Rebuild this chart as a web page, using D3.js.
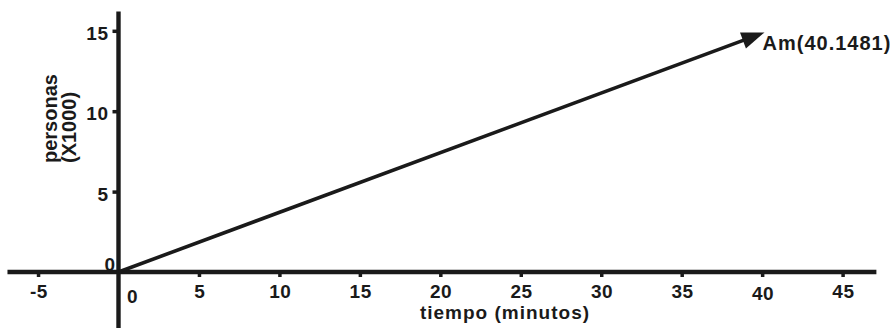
<!DOCTYPE html>
<html>
<head>
<meta charset="utf-8">
<script src="https://cdn.jsdelivr.net/npm/d3@7"></script>
<style>
  html, body { margin: 0; padding: 0; background: #fff; }
  svg { display: block; }
  text { font-family: "Liberation Sans", Arial, sans-serif; font-weight: bold; fill: #1a1a1a; }
</style>
</head>
<body>
<svg id="chart" width="890" height="328"></svg>
<script>
// ---- data ----
const xTicks = [-5, 0, 5, 10, 15, 20, 25, 30, 35, 40, 45];
const yTicks = [0, 5, 10, 15];
const lineX = [0, 40.1481];
const lineY = [0, 14.9];
const annotation = "Am(40.1481)";
const xTitle = "tiempo (minutos)";
const yTitleLines = ["personas", "(X1000)"];
const xExtent = [-6.9, 47.1];
const yExtent = [-3.6, 16.2];

// ---- layout ----
const W = 890, H = 328;
const ink = "#1a1a1a";
const svg = d3.select("#chart");

const x = d3.scaleLinear().domain([0, 45]).range([118.5, 842.6]);
const y = d3.scaleLinear().domain([0, 15]).range([272, 30.8]);

// axis lines
svg.append("line")
  .attr("x1", x(xExtent[0])).attr("x2", x(xExtent[1]))
  .attr("y1", y(0)).attr("y2", y(0))
  .attr("stroke", ink).attr("stroke-width", 4.4);
svg.append("line")
  .attr("x1", x(0)).attr("x2", x(0))
  .attr("y1", y(yExtent[1])).attr("y2", y(yExtent[0]))
  .attr("stroke", ink).attr("stroke-width", 4.4);

// x axis ticks + labels
const xAxis = d3.axisBottom(x).tickValues(xTicks).tickSize(5).tickSizeOuter(0).tickFormat(d3.format("d"));
const gx = svg.append("g").attr("transform", `translate(0,${y(0)})`).call(xAxis);
gx.select(".domain").remove();
gx.selectAll(".tick line").attr("stroke", ink).attr("stroke-width", 3.5)
  .attr("display", d => d === 0 ? "none" : null);
gx.selectAll(".tick text")
  .attr("font-size", 19).attr("letter-spacing", 0.5).attr("fill", ink)
  .attr("font-family", '"Liberation Sans", Arial, sans-serif').attr("font-weight", "bold")
  .attr("dy", null)
  .attr("y", d => d === 0 ? 30.5 : (d === 40 ? 28 : 25.5))
  .attr("x", d => d === 0 ? 13.5 : 0.3)
  .text(d => d3.format("d")(d).replace("−", "-"));

// y axis ticks + labels
const yAxis = d3.axisLeft(y).tickValues(yTicks).tickSize(6).tickSizeOuter(0).tickFormat(d3.format("d"));
const gy = svg.append("g").attr("transform", `translate(${x(0)},0)`).call(yAxis);
gy.select(".domain").remove();
gy.selectAll(".tick line").attr("stroke", ink).attr("stroke-width", 3.5)
  .attr("display", d => d === 0 ? "none" : null);
gy.selectAll(".tick text")
  .attr("font-size", 19).attr("letter-spacing", 0.5).attr("fill", ink)
  .attr("font-family", '"Liberation Sans", Arial, sans-serif').attr("font-weight", "bold")
  .attr("dy", null)
  .attr("x", d => d === 0 ? -3 : -10)
  .attr("y", d => d === 0 ? -2 : 8.5);

// the line with arrowhead
const x0 = x(lineX[0]), y0 = y(lineY[0]);
const x1 = x(lineX[1]), y1 = y(lineY[1]);
const len = Math.hypot(x1 - x0, y1 - y0);
const ux = (x1 - x0) / len, uy = (y1 - y0) / len;
const px = -uy, py = ux;
const headL = 23, headW = 8.5;
svg.append("line")
  .attr("x1", x0).attr("y1", y0)
  .attr("x2", x1 - ux * 12).attr("y2", y1 - uy * 12)
  .attr("stroke", ink).attr("stroke-width", 3.6);
const bx = x1 - ux * headL, by = y1 - uy * headL;
svg.append("path")
  .attr("d", `M${x1},${y1}L${bx + px * headW},${by + py * headW}L${bx - px * headW},${by - py * headW}Z`)
  .attr("fill", ink);

// annotation
svg.append("text")
  .attr("x", x1 - 2).attr("y", y1 + 18)
  .attr("font-size", 20).attr("letter-spacing", 1)
  .text(annotation);

// axis titles
svg.append("text")
  .attr("x", 505).attr("y", 318.5)
  .attr("text-anchor", "middle")
  .attr("font-size", 19).attr("letter-spacing", 1)
  .text(xTitle);

const yt = svg.append("text")
  .attr("transform", "translate(0,163) rotate(-90)")
  .attr("font-size", 20);
yt.selectAll("tspan").data(yTitleLines).join("tspan")
  .attr("x", 0)
  .attr("y", (d, i) => i === 0 ? 57 : 76)
  .text(d => d);
</script>
</body>
</html>
